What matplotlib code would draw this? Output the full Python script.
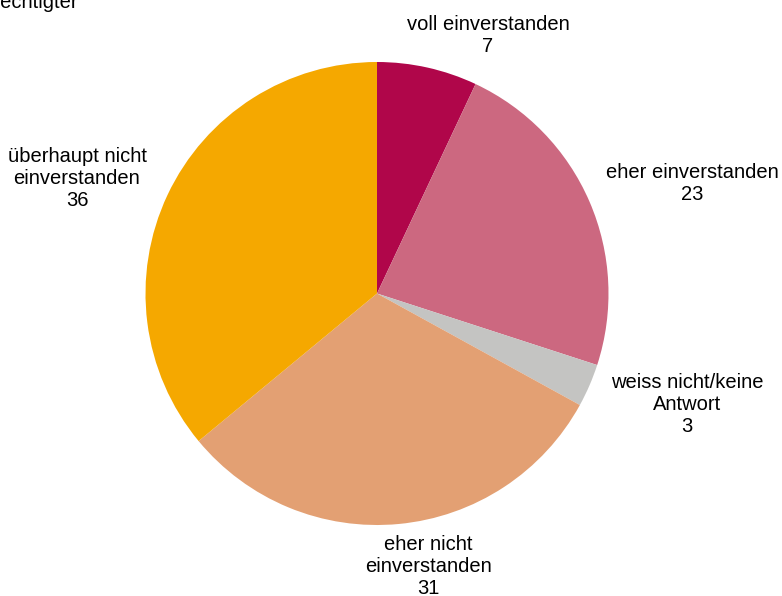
import matplotlib
matplotlib.use("Agg")
import matplotlib.pyplot as plt

plt.rcParams['font.family'] = ['Liberation Sans', 'DejaVu Sans']

# survey answers, in % of eligible voters
categories = [
    "voll einverstanden",
    "eher einverstanden",
    "weiss nicht/keine\nAntwort",
    "eher nicht\neinverstanden",
    "überhaupt nicht\neinverstanden",
]
values = [7, 23, 3, 31, 36]
colors = ["#B0064A", "#CC6880", "#C4C4C2", "#E3A073", "#F5A800"]

# label anchor points (pixels from top-left of the canvas)
label_pos = [(488, 36), (692, 184), (687, 404), (428, 566), (77, 178)]

W, H = 782, 596
fig = plt.figure(figsize=(W / 100, H / 100), dpi=100)
ax = fig.add_axes([0, 0, 1, 1])

cx, cy, r = 377, 293.5, 231.5
ax.pie(values, colors=colors, startangle=90, counterclock=False,
       center=(cx, H - cy), radius=r, frame=True,
       wedgeprops=dict(linewidth=0))
ax.set_xlim(0, W)
ax.set_ylim(0, H)
ax.set_aspect('equal')
ax.axis('off')

for cat, val, (x, y) in zip(categories, values, label_pos):
    ax.text(x, H - y, f"{cat}\n{val}", ha='center', va='center',
            fontsize=14.5, color='black', linespacing=1.2)

ax.text(78, H - 8, "in % Stimmberechtigter", ha='right', va='baseline',
        fontsize=14.5, color='black')

fig.savefig("out.png", dpi=100)
